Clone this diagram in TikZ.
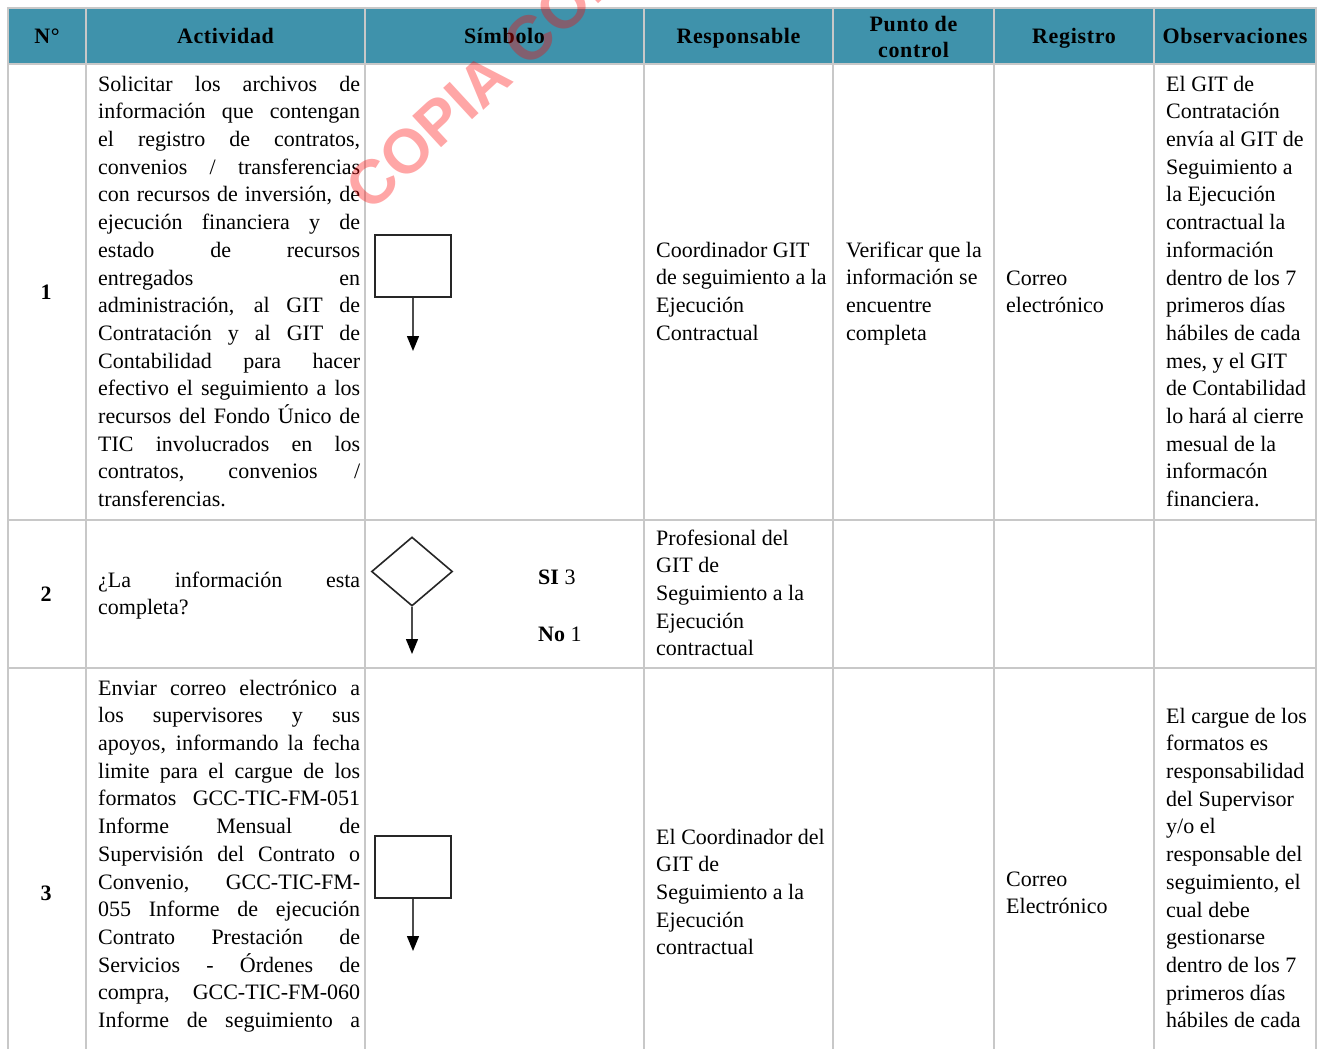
\documentclass[tikz,border=0pt]{standalone}
\usepackage{fontspec}
\setmainfont{Liberation Serif}
\newfontfamily\hdrfont{Liberation Serif}[LetterSpace=3]
\newfontfamily\wmfont{Liberation Sans Bold}
\usetikzlibrary{shapes.geometric,arrows.meta}
\definecolor{hdr}{RGB}{63,146,171}
\definecolor{gridc}{RGB}{200,200,200}
\newcommand{\jl}[1]{\makebox[262pt][s]{#1}}
\begin{document}
\begin{tikzpicture}[x=1pt,y=-1pt,
  txt/.style={anchor=north west, inner sep=0pt, align=left, font=\fontsize{22}{27.7}\selectfont},
  hd/.style={font=\hdrfont\bfseries\fontsize{22}{26}\selectfont, align=center, inner sep=0pt},
  num/.style={font=\bfseries\fontsize{22}{26}\selectfont, inner sep=0pt, anchor=base},
  lbl/.style={font=\fontsize{22}{26}\selectfont, inner sep=0pt, anchor=base west},
  boxsym/.style={draw=black!85, line width=2.4pt, minimum width=76pt, minimum height=62pt, inner sep=0pt},
  decsym/.style={draw=black!85, diamond, line width=1.6pt, minimum width=81pt, minimum height=69pt, inner sep=0pt},
  flow/.style={draw=black!70, line width=1.4pt, -{Triangle[width=12pt,length=15pt,color=black]}},
  gridline/.style={draw=gridc, line width=2pt}]
\useasboundingbox (0,0) rectangle (1318,1049);
\fill[white] (0,0) rectangle (1318,1049);
% header band
\fill[hdr] (8,8) rectangle (1316,64);
% grid
\foreach \x in {8,86,365,644,833,994,1154,1316} \draw[gridline] (\x,7) -- (\x,1049);
\foreach \y in {8,64,520,668} \draw[gridline] (7,\y) -- (1317,\y);
% header texts
\node[hd, anchor=base] (h1) at (47,43.5) {N°};
\node[hd, anchor=base] (h2) at (225.5,43.5) {Actividad};
\node[hd, anchor=base] (h3) at (504.5,43.5) {Símbolo};
\node[hd, anchor=base] (h4) at (738.5,43.5) {Responsable};
\node[hd, anchor=north] (h5) at (913.5,13.3) {\strut Punto de\\control};
\node[hd, anchor=base] (h6) at (1074,43.5) {Registro};
\node[hd, anchor=base] (h7) at (1235,43.5) {Observaciones};
% numbers
\node[num] (n1) at (46,299.5) {1};
\node[num] (n2) at (46,601.5) {2};
\node[num] (n3) at (46,900.5) {3};
% row 1
\node[txt] (a1) at (98,71.6) {\strut\jl{Solicitar los archivos de}\\
\jl{información que contengan}\\
\jl{el registro de contratos,}\\
\jl{convenios / transferencias}\\
\jl{con recursos de inversión, de}\\
\jl{ejecución financiera y de}\\
\jl{estado de recursos}\\
\jl{entregados en}\\
\jl{administración, al GIT de}\\
\jl{Contratación y al GIT de}\\
\jl{Contabilidad para hacer}\\
\jl{efectivo el seguimiento a los}\\
\jl{recursos del Fondo Único de}\\
\jl{TIC involucrados en los}\\
\jl{contratos, convenios /}\\
transferencias.};
\node[boxsym] (s1) at (413,266) {};
\coordinate (t1) at (413,351);
\draw[flow] (s1) -- (t1);
\node[txt] (r1) at (656,237.6) {\strut Coordinador GIT\\de seguimiento a la\\Ejecución\\Contractual};
\node[txt] (p1) at (846,237.6) {\strut Verificar que la\\información se\\encuentre\\completa};
\node[txt] (g1) at (1006,265.6) {\strut Correo\\electrónico};
\node[txt] (o1) at (1166,71.6) {\strut El GIT de\\Contratación\\envía al GIT de\\Seguimiento a\\la Ejecución\\contractual la\\información\\dentro de los 7\\primeros días\\hábiles de cada\\mes, y el GIT\\de Contabilidad\\lo hará al cierre\\mesual de la\\informacón\\financiera.};
% row 2
\node[txt] (a2) at (98,567.6) {\strut\jl{¿La información esta}\\completa?};
\node[decsym] (d2) at (412,571.5) {};
\coordinate (t2) at (412,654);
\draw[flow] (d2) -- (t2);
\node[lbl] (si) at (538,584) {\textbf{SI} 3};
\node[lbl] (no) at (538,641) {\textbf{No} 1};
\node[txt] (r2) at (656,525.6) {\strut Profesional del\\GIT de\\Seguimiento a la\\Ejecución\\contractual};
% row 3
\node[txt] (a3) at (98,675.6) {\strut\jl{Enviar correo electrónico a}\\
\jl{los supervisores y sus}\\
\jl{apoyos, informando la fecha}\\
\jl{limite para el cargue de los}\\
\jl{formatos GCC-TIC-FM-051}\\
\jl{Informe Mensual de}\\
\jl{Supervisión del Contrato o}\\
\jl{Convenio, GCC-TIC-FM-}\\
\jl{055 Informe de ejecución}\\
\jl{Contrato Prestación de}\\
\jl{Servicios - Órdenes de}\\
\jl{compra, GCC-TIC-FM-060}\\
\jl{Informe de seguimiento a}};
\node[boxsym] (s3) at (413,867) {};
\coordinate (t3) at (413,951);
\draw[flow] (s3) -- (t3);
\node[txt] (r3) at (656,824.6) {\strut El Coordinador del\\GIT de\\Seguimiento a la\\Ejecución\\contractual};
\node[txt] (g3) at (1006,866.6) {\strut Correo\\Electrónico};
\node[txt] (o3) at (1166,703.6) {\strut El cargue de los\\formatos es\\responsabilidad\\del Supervisor\\y/o el\\responsable del\\seguimiento, el\\cual debe\\gestionarse\\dentro de los 7\\primeros días\\hábiles de cada};
% watermark
\begin{scope}
\clip (0,0) rectangle (1318,1049);
\node[font=\wmfont\fontsize{62}{62}\selectfont, text=red, text opacity=0.35, anchor=base west, rotate=42.7, inner sep=0pt] (wm) at (370.5,214) {COPIA CONT};
\end{scope}
\end{tikzpicture}
\end{document}
